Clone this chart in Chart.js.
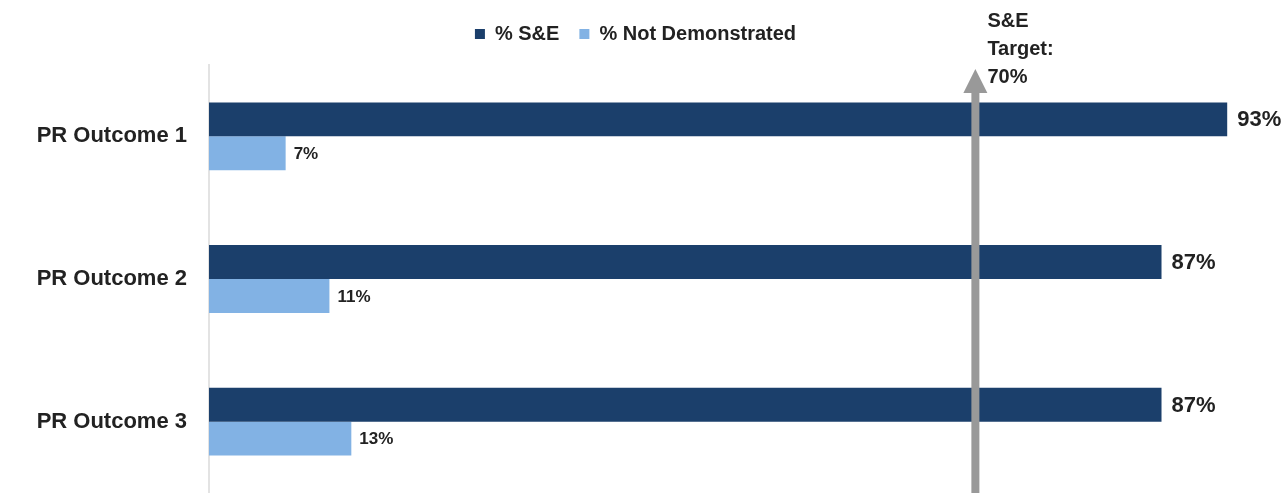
<!DOCTYPE html>
<html>
<head>
<meta charset="utf-8">
<script src="https://cdn.jsdelivr.net/npm/chart.js@4/dist/chart.umd.min.js"></script>
<style>
    html, body { margin: 0; padding: 0; background: #fff; }
    #wrap { width: 1287px; height: 493px; position: relative; }
</style>
</head>
<body>
<div id="wrap"><canvas id="outcomeChart"></canvas></div>
<script>
// Daten
const categories = ['PR Outcome 1', 'PR Outcome 2', 'PR Outcome 3'];
const seriesNames = ['% S&E', '% Not Demonstrated'];
const pctSE = [93, 87, 87];
const pctNotDemonstrated = [7, 11, 13];
const targetValue = 70;
const targetLabel = ['S&E', 'Target:', '70%'];

const FONT = "'Liberation Sans', Arial, sans-serif";
const DARK = '#1b3f6b';
const LIGHT = '#82b2e4';

// Mehr Abstand zwischen Legende und Diagramm
const legendGap = {
    id: 'legendGap',
    beforeLayout(chart) {
        const legend = chart.legend;
        if (legend && !legend._gapPatched) {
            const fit = legend.fit;
            legend.fit = function() {
                fit.call(this);
                this.height += 11;
            };
            legend._gapPatched = true;
        }
    }
};

// Prozentwerte rechts neben den Balken
const valueLabels = {
    id: 'valueLabels',
    afterDatasetsDraw(chart) {
        const ctx = chart.ctx;
        ctx.save();
        ctx.fillStyle = '#222';
        ctx.textBaseline = 'middle';
        ctx.textAlign = 'left';
        chart.data.datasets.forEach((ds, i) => {
            const meta = chart.getDatasetMeta(i);
            ctx.font = (i === 0 ? 'bold 22px ' : 'bold 17px ') + FONT;
            meta.data.forEach((bar, j) => {
                ctx.fillText(ds.data[j] + '%', bar.x + (i === 0 ? 10 : 8), bar.y + 1);
            });
        });
        ctx.restore();
    }
};

// Pfeil fuer das Ziel (70%)
const targetArrow = {
    id: 'targetArrow',
    afterDatasetsDraw(chart) {
        const ctx = chart.ctx;
        const x = chart.scales.x.getPixelForValue(targetValue);
        const area = chart.chartArea;
        const tip = area.top + 4;
        const headBase = tip + 24;
        ctx.save();
        ctx.fillStyle = '#999999';
        ctx.fillRect(x - 4, headBase - 1, 8, chart.height - headBase + 1);
        ctx.beginPath();
        ctx.moveTo(x, tip);
        ctx.lineTo(x + 12, headBase);
        ctx.lineTo(x - 12, headBase);
        ctx.closePath();
        ctx.fill();

        ctx.fillStyle = '#222';
        ctx.font = 'bold 20px ' + FONT;
        ctx.textAlign = 'left';
        ctx.textBaseline = 'alphabetic';
        targetLabel.forEach((line, k) => {
            ctx.fillText(line, x + 12, 27 + k * 28);
        });
        ctx.restore();
    }
};

new Chart(document.getElementById('outcomeChart'), {
    type: 'bar',
    data: {
        labels: categories,
        datasets: [
            {
                label: seriesNames[0],
                data: pctSE,
                backgroundColor: DARK,
                categoryPercentage: 0.476,
                barPercentage: 1.0
            },
            {
                label: seriesNames[1],
                data: pctNotDemonstrated,
                backgroundColor: LIGHT,
                categoryPercentage: 0.476,
                barPercentage: 1.0
            }
        ]
    },
    options: {
        indexAxis: 'y',
        responsive: true,
        maintainAspectRatio: false,
        animation: false,
        layout: {
            padding: { left: 0, right: 16, top: 4, bottom: 0 }
        },
        plugins: {
            legend: {
                display: true,
                position: 'top',
                labels: {
                    color: '#222',
                    font: { family: FONT, size: 20, weight: 'bold' },
                    boxWidth: 10,
                    boxHeight: 10,
                    padding: 20
                }
            },
            tooltip: { enabled: false }
        },
        scales: {
            x: {
                display: false,
                min: 0,
                max: 97
            },
            y: {
                grid: { display: false, drawTicks: false },
                border: { display: true, color: '#e3e3e3', width: 2 },
                ticks: {
                    color: '#222',
                    font: { family: FONT, size: 22, weight: 'bold' },
                    padding: 22
                },
                afterFit: function(scale) {
                    scale.width = 209;  // Achse bei x=209 wie im Original
                    scale.paddingTop = 0;
                    scale.paddingBottom = 0;
                }
            }
        }
    },
    plugins: [legendGap, valueLabels, targetArrow]
});
</script>
</body>
</html>
